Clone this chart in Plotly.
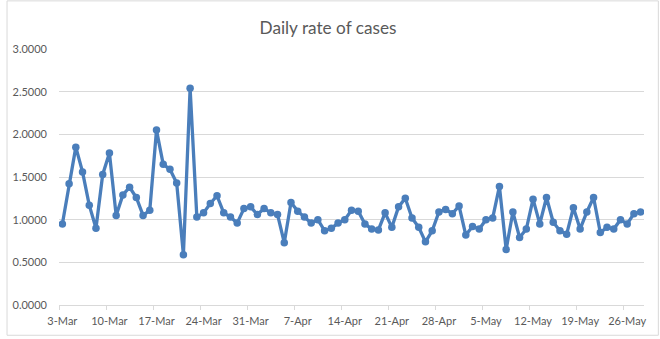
import pandas as pd
import plotly.graph_objects as go

dates = pd.date_range("2020-03-03", periods=87, freq="D")
categories = [f"{d.day}-{d.strftime('%b')}" for d in dates]

rates = [
    0.95, 1.42, 1.85, 1.56, 1.17, 0.90, 1.53, 1.78, 1.05, 1.29,
    1.38, 1.26, 1.05, 1.11, 2.05, 1.65, 1.59, 1.43, 0.59, 2.54,
    1.03, 1.08, 1.19, 1.28, 1.08, 1.03, 0.96, 1.13, 1.15, 1.06,
    1.13, 1.08, 1.06, 0.73, 1.20, 1.10, 1.03, 0.96, 1.00, 0.87,
    0.90, 0.96, 1.00, 1.11, 1.10, 0.95, 0.89, 0.88, 1.08, 0.91,
    1.15, 1.25, 1.02, 0.91, 0.74, 0.87, 1.09, 1.12, 1.07, 1.16,
    0.82, 0.92, 0.89, 1.00, 1.02, 1.39, 0.65, 1.09, 0.79, 0.89,
    1.24, 0.95, 1.26, 0.97, 0.87, 0.83, 1.14, 0.89, 1.09, 1.26,
    0.85, 0.91, 0.89, 1.00, 0.95, 1.07, 1.09,
]

tick_labels = ["3-Mar", "10-Mar", "17-Mar", "24-Mar", "31-Mar", "7-Apr", "14-Apr",
               "21-Apr", "28-Apr", "5-May", "12-May", "19-May", "26-May"]

idx = list(range(len(categories)))
tick_pos = [categories.index(t) for t in tick_labels]
minor_pos = [p - 0.5 for p in tick_pos]

BLUE = "#4A7EBB"
GRID = "#D9D9D9"
TXT = "#595959"
FONT = "Lato"

fig = go.Figure()
fig.add_trace(go.Scatter(
    x=idx, y=rates, mode="lines+markers",
    line=dict(color=BLUE, width=3.3),
    marker=dict(color=BLUE, size=7.5),
    text=categories, hovertemplate="%{text}: %{y:.4f}<extra></extra>",
))

L, R, T, B = 53, 16, 49, 32
W, H = 660, 339
pw, ph = W - L - R, H - T - B

fig.update_layout(
    width=W, height=H,
    margin=dict(l=L, r=R, t=T, b=B),
    paper_bgcolor="white", plot_bgcolor="white",
    showlegend=False,
    font=dict(family=FONT, color=TXT, size=11),
    title=dict(text="Daily rate of cases", x=0.497, xref="container",
               y=1 - 28 / H, yanchor="middle", xanchor="center",
               font=dict(family=FONT, size=17.2, color=TXT)),
    xaxis=dict(
        range=[-0.5, len(idx) - 0.5],
        tickmode="array", tickvals=tick_pos, ticktext=tick_labels,
        ticks="", showgrid=False, zeroline=False,
        showline=True, linecolor=GRID, linewidth=1,
        ticklabelstandoff=6,
        tickfont=dict(family=FONT, size=11, color=TXT),
        minor=dict(tickmode="array", tickvals=minor_pos, ticks="outside",
                   ticklen=4, tickcolor=GRID, tickwidth=1, showgrid=False),
    ),
    yaxis=dict(
        range=[0, 3], dtick=0.5, tick0=0, tickformat=".4f",
        showgrid=True, gridcolor=GRID, gridwidth=1,
        zeroline=False, showline=False, ticks="",
        ticklabelstandoff=11,
        tickfont=dict(family=FONT, size=11, color=TXT),
    ),
    shapes=[dict(
        type="rect", xref="paper", yref="paper",
        x0=(0.5 - L) / pw, x1=(658.5 - L) / pw,
        y0=(H - B - 337.5) / ph, y1=(H - B - 0.5) / ph,
        line=dict(color=GRID, width=1), fillcolor="rgba(0,0,0,0)", layer="below",
    )],
)

fig.write_html("out.html")
